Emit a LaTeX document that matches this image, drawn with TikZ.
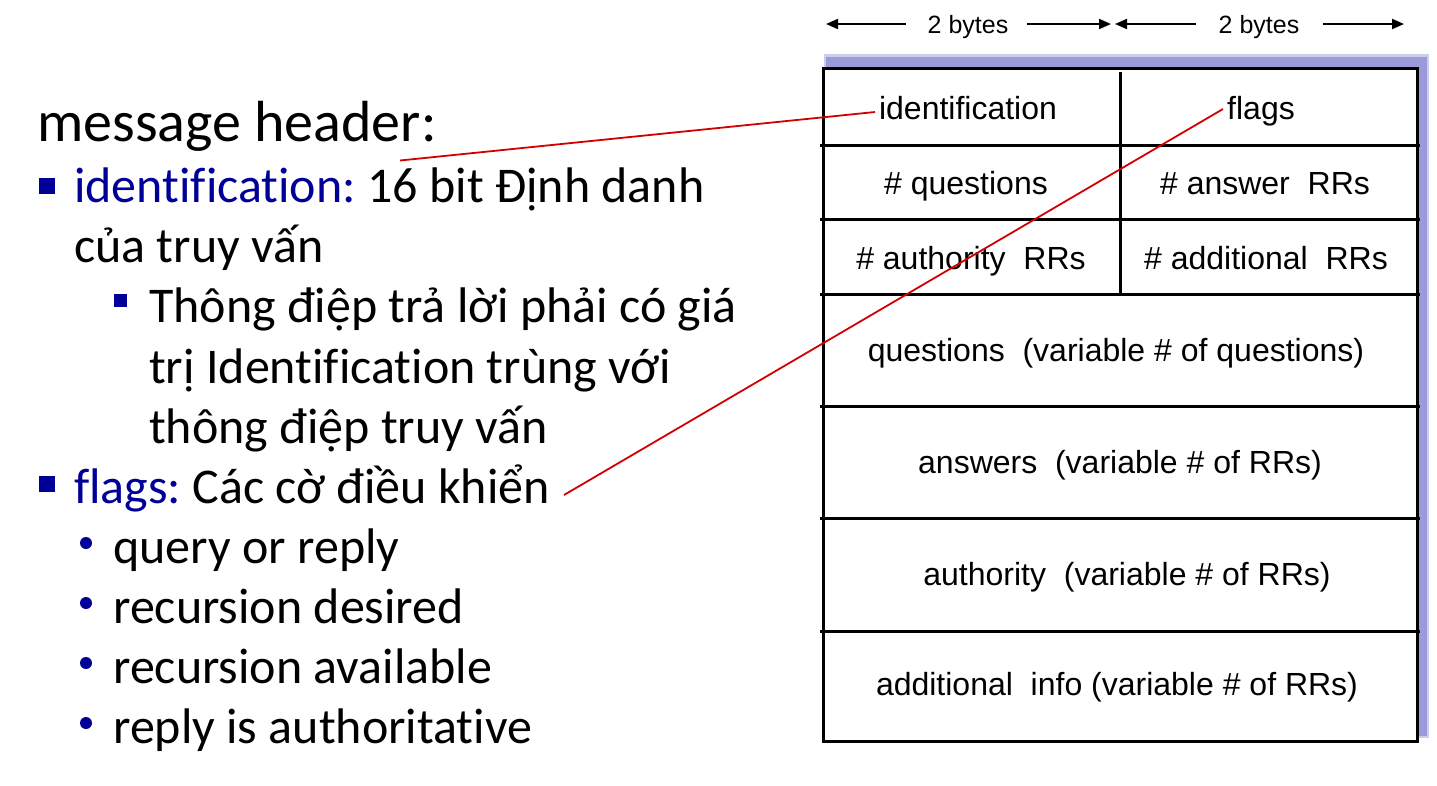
\documentclass[tikz,border=0pt]{standalone}
\usepackage{fontspec}
\setmainfont{Carlito}[Ligatures=NoCommon]
\newfontfamily\arialf{Liberation Sans}
\usetikzlibrary{arrows.meta}
\definecolor{hblue}{RGB}{0,0,153}
\definecolor{shadowc}{RGB}{155,155,218}
\definecolor{redl}{RGB}{210,0,0}
\frenchspacing
\begin{document}
\begin{tikzpicture}[x=1pt,y=-1pt,
  body/.style={anchor=base west, inner sep=0pt, font=\fontsize{50}{60}\selectfont},
  headtxt/.style={anchor=base west, inner sep=0pt, font=\fontsize{58}{60}\selectfont},
  cell/.style={anchor=base, font=\arialf\fontsize{32}{36}\selectfont, inner sep=0pt},
  bytelbl/.style={anchor=base, font=\arialf\fontsize{25}{28}\selectfont, inner sep=0pt},
  sqbig/.style={fill=hblue, minimum size=16pt, inner sep=0pt},
  sqsmall/.style={fill=hblue, minimum size=12.5pt, inner sep=0pt},
  dotb/.style={circle, fill=hblue, minimum size=12pt, inner sep=0pt},
  gridline/.style={line width=3pt, black},
  widtharrow/.style={line width=2pt, -{Triangle[length=12pt,width=10pt]}},
  redline/.style={line width=1.8pt, redl}
]
\useasboundingbox (0,0) rectangle (1437,785);
\fill[white] (0,0) rectangle (1437,785);

% ---------- left text ----------
\node[headtxt] (mh) at (37,141) {message header:};
\node[sqbig] (b1) at (47,186) {};
\node[body] (l1) at (74,202.5) {\textcolor{hblue}{identification:} 16 bit Định danh};
\node[body] (l1b) at (74,262.5) {của truy vấn};
\node[sqsmall] (b2) at (120.5,300.5) {};
\node[body] (l2a) at (149,322.5) {Thông điệp trả lời phải có giá};
\node[body] (l2b) at (149,383.5) {trị Identification trùng với};
\node[body] (l2c) at (149,443.5) {thông điệp truy vấn};
\node[sqbig] (b3) at (47,483.5) {};
\node[body] (l3) at (74,503.5) {\textcolor{hblue}{flags:} Các cờ điều khiển};
\node[dotb] (d1) at (86,543) {};
\node[body] (q1) at (113,563.5) {query or reply};
\node[dotb] (d2) at (86,603) {};
\node[body] (q2) at (113,623.5) {recursion desired};
\node[dotb] (d3) at (86,663) {};
\node[body] (q3) at (113,683.5) {recursion available};
\node[dotb] (d4) at (86,723) {};
\node[body] (q4) at (113,743.5) {reply is authoritative};

% ---------- byte arrows ----------
\node[bytelbl] (by1) at (968,33) {2 bytes};
\node[bytelbl] (by2) at (1259,33) {2 bytes};
\coordinate (a1l) at (826,24);
\coordinate (a1r) at (1111,24);
\coordinate (a2l) at (1115,24);
\coordinate (a2r) at (1404,24);
\draw[widtharrow] (906,24) -- (a1l);
\draw[widtharrow] (1027,24) -- (a1r);
\draw[widtharrow] (1196,24) -- (a2l);
\draw[widtharrow] (1323,24) -- (a2r);

% ---------- table ----------
\fill[shadowc, opacity=0.5] (824,54) rectangle (1429,738);
\fill[shadowc] (826,57) rectangle (1427,736);
\draw[gridline, fill=white] (823,68) rectangle (1417,741);
\foreach \yy in {145,219,294,406,518,631}
  \draw[gridline] (820,\yy) -- (1420,\yy);
\draw[gridline] (1120,72) -- (1120,294);

\node[cell] (idf) at (968,119) {identification};
\node[cell] (flg) at (1261,119) {flags};
\node[cell] (nq) at (966,194) {\# questions};
\node[cell] (na) at (1265,194) {\# answer\ \ RRs};
\node[cell] (nau) at (971,269) {\# authority\ \ RRs};
\node[cell] (nad) at (1266,269) {\# additional\ \ RRs};
\node[cell] (qs) at (1116,361) {questions\ \ (variable \# of questions)};
\node[cell] (an) at (1120,473) {answers\ \ (variable \# of RRs)};
\node[cell] (au) at (1127,585) {authority\ \ (variable \# of RRs)};
\node[cell] (ad) at (1117,695) {additional\ \ info (variable \# of RRs)};

% ---------- red connectors ----------
\coordinate (idsrc) at (400,160.5);
\coordinate (idend) at (875,112);
\coordinate (flsrc) at (564,495);
\coordinate (flend) at (1223,109);
\draw[redline] (idsrc) -- (idend);
\draw[redline] (flsrc) -- (flend);
\end{tikzpicture}
\end{document}
